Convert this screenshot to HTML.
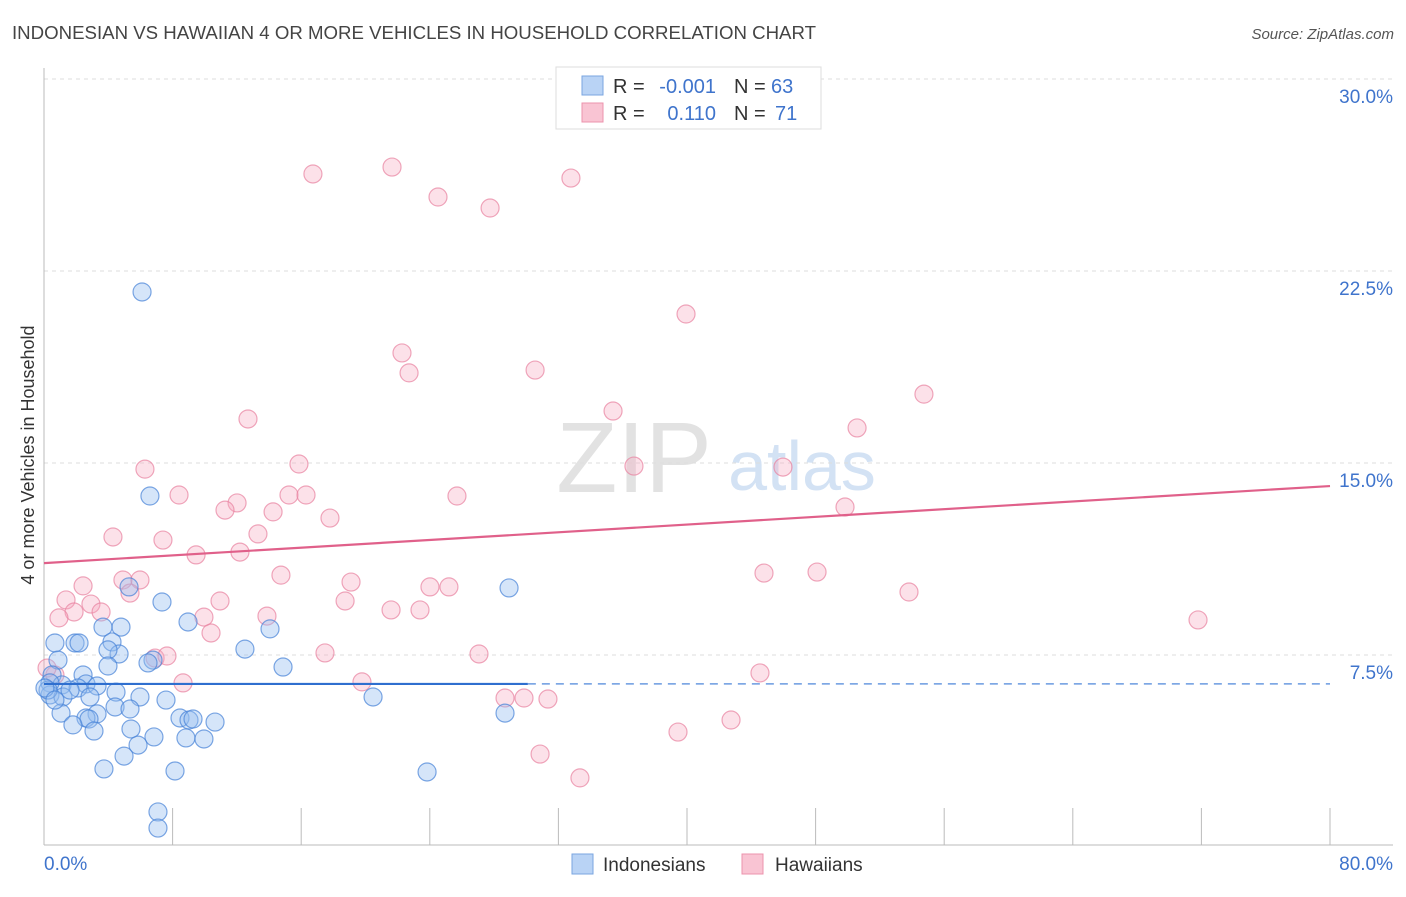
<!DOCTYPE html>
<html><head><meta charset="utf-8"><style>
body{margin:0;background:#fff;font-family:"Liberation Sans",sans-serif;}
svg text{font-family:"Liberation Sans",sans-serif;}
</style></head><body>
<svg id="chart" width="1406" height="892" xmlns="http://www.w3.org/2000/svg">
<text x="12" y="39" font-size="18" textLength="804" lengthAdjust="spacingAndGlyphs" fill="#444">INDONESIAN VS HAWAIIAN 4 OR MORE VEHICLES IN HOUSEHOLD CORRELATION CHART</text>
<text x="1394" y="39" font-size="15" fill="#555" font-style="italic" text-anchor="end">Source: ZipAtlas.com</text>
<g>
<text x="634" y="492" font-size="100" fill="#e2e2e2" text-anchor="middle" font-family="Liberation Serif">ZIP</text>
<text x="802" y="490" font-size="70" fill="#d3e2f4" text-anchor="middle">atlas</text>
</g>
<g id="grid"></g>
<g id="axes"></g>
<g id="pts"></g>
<g id="trend"></g>
<text transform="translate(34,455) rotate(-90)" font-size="18" fill="#333" text-anchor="middle">4 or more Vehicles in Household</text>
<g>
<rect x="556" y="67" width="265" height="62" fill="#fff" stroke="#ddd"/>
<rect x="582" y="76" width="21" height="19" fill="#b9d3f5" stroke="#7aa6e0"/>
<rect x="582" y="103" width="21" height="19" fill="#f9c4d3" stroke="#ec93ad"/>
<text x="613" y="93" font-size="20" fill="#333">R =</text>
<text x="716" y="93" font-size="20" fill="#3f74cc" text-anchor="end">-0.001</text>
<text x="734" y="93" font-size="20" fill="#333">N =</text>
<text x="771" y="93" font-size="20" fill="#3f74cc">63</text>
<text x="613" y="120" font-size="20" fill="#333">R =</text>
<text x="716" y="120" font-size="20" fill="#3f74cc" text-anchor="end">0.110</text>
<text x="734" y="120" font-size="20" fill="#333">N =</text>
<text x="775" y="120" font-size="20" fill="#3f74cc">71</text>
</g>
<g>
<rect x="572" y="854" width="21" height="20" fill="#b9d3f5" stroke="#7aa6e0"/>
<text x="603" y="871" font-size="19" fill="#333">Indonesians</text>
<rect x="742" y="854" width="21" height="20" fill="#f9c4d3" stroke="#ec93ad"/>
<text x="775" y="871" font-size="19" fill="#333">Hawaiians</text>
</g>
</svg>
<script>
const yTicks=[7.5,15,22.5,30];
const yTickLabels=["7.5%","15.0%","22.5%","30.0%"];
const xTickLabels=["0.0%","80.0%"];
const blueX=[6.10,6.59,7.34,8.96,5.29,4.79,3.67,4.23,0.68,1.93,2.18,0.87,4.67,3.98,6.78,3.98,6.47,12.50,14.06,14.87,0.50,2.43,2.61,1.12,0.37,2.12,3.30,0.37,1.18,4.48,5.97,7.59,2.86,1.06,3.30,4.42,5.35,2.61,2.80,1.80,3.11,8.46,9.02,9.27,10.64,5.41,6.84,8.83,9.95,5.85,4.98,3.73,8.15,7.09,7.09,20.47,28.93,28.68,23.83,0.25,1.62,0.06,0.68];
const blueY=[21.68,13.71,9.57,8.79,10.16,8.59,8.59,8.01,7.97,7.97,7.97,7.30,7.54,7.70,7.30,7.07,7.19,7.73,8.52,7.03,6.72,6.72,6.37,6.33,6.41,6.21,6.29,5.94,5.86,6.05,5.86,5.74,5.86,5.23,5.20,5.47,5.39,5.04,5.00,4.77,4.53,5.04,4.96,5.00,4.88,4.61,4.30,4.26,4.22,3.98,3.55,3.05,2.97,1.37,0.74,5.86,10.12,5.23,2.93,6.13,6.13,6.21,5.74];
const pinkX=[16.73,21.65,24.51,27.75,32.78,39.94,22.27,22.71,30.55,54.74,35.40,12.69,50.58,6.28,15.86,36.70,45.97,8.40,12.01,15.24,16.30,25.69,49.83,11.26,14.25,17.79,4.29,7.40,13.31,12.19,9.46,44.79,48.09,14.74,19.10,4.91,5.97,2.43,5.35,24.01,25.19,53.81,1.37,2.92,3.55,10.95,18.73,21.59,23.39,1.87,0.93,13.87,9.95,10.39,71.79,17.48,27.06,6.91,7.65,44.54,0.68,8.65,19.78,28.68,29.86,31.35,39.44,42.74,30.86,33.34,0.19];
const pinkY=[26.29,26.56,25.39,24.96,26.13,20.82,19.30,18.52,18.63,17.69,17.03,16.72,16.37,14.76,14.96,14.88,14.84,13.75,13.44,13.75,13.75,13.71,13.28,13.16,13.09,12.85,12.11,11.99,12.23,11.52,11.41,10.70,10.74,10.62,10.35,10.43,10.43,10.20,9.92,10.16,10.16,9.96,9.65,9.49,9.18,9.61,9.61,9.26,9.26,9.18,8.95,9.02,8.98,8.36,8.87,7.58,7.54,7.38,7.46,6.80,6.72,6.41,6.45,5.82,5.82,5.78,4.49,4.96,3.63,2.70,6.99];
const blueTrend=[6.37,6.37];
const blueSolidEnd=30.1;
const pinkTrend=[11.09,14.10];

const NS="http://www.w3.org/2000/svg";
const X0=44,X1=1330,Y0=847,PPY=192/7.5;
const sx=v=>X0+(v/80)*(X1-X0);
const sy=v=>Y0-v*PPY;
function mk(tag,attrs,parent){const e=document.createElementNS(NS,tag);for(const k in attrs)e.setAttribute(k,attrs[k]);parent.appendChild(e);return e;}
const grid=document.getElementById('grid'),axes=document.getElementById('axes'),pts=document.getElementById('pts'),trend=document.getElementById('trend');
yTicks.forEach((t,i)=>{
 const l=mk('line',{x1:44,x2:1393,y1:sy(t),y2:sy(t),stroke:'#ddd','stroke-dasharray':'4,4'},grid);
 
 
 const tx=mk('text',{x:1393,y:sy(t)+24,'font-size':19,fill:'#3f74cc','text-anchor':'end'},axes);
 tx.textContent=yTickLabels[i];
 
 
});
const ax=mk('line',{x1:44,x2:1393,y1:845,y2:845,stroke:'#bbb'},axes);


const ay=mk('line',{x1:44,x2:44,y1:68,y2:845,stroke:'#bbb'},axes);


for(let k=1;k<=10;k++){
 const t=mk('line',{x1:sx(k*8),x2:sx(k*8),y1:808,y2:845,stroke:'#bbb'},axes);
 
 
}
const xl0=mk('text',{x:44,y:870,'font-size':19,fill:'#3f74cc'},axes);
xl0.textContent=xTickLabels[0];


const xl1=mk('text',{x:1393,y:870,'font-size':19,fill:'#3f74cc','text-anchor':'end'},axes);
xl1.textContent=xTickLabels[1];


pinkX.forEach((v,i)=>{
 const c=mk('circle',{cx:sx(v),cy:sy(pinkY[i]),r:9,fill:'rgba(245,170,192,0.35)',stroke:'rgba(232,130,160,0.7)','stroke-width':1.2},pts);
 
 
});
blueX.forEach((v,i)=>{
 const c=mk('circle',{cx:sx(v),cy:sy(blueY[i]),r:9,fill:'rgba(150,190,240,0.4)',stroke:'rgba(70,130,215,0.7)','stroke-width':1.2},pts);
 
 
});
const pt=mk('line',{x1:sx(0),x2:sx(80),y1:sy(pinkTrend[0]),y2:sy(pinkTrend[1]),stroke:'#e0608a','stroke-width':2.2},trend);


const bs=mk('line',{x1:sx(0),x2:sx(blueSolidEnd),y1:sy(blueTrend[0]),y2:sy(blueTrend[0]),stroke:'#2f6fcf','stroke-width':2.2},trend);


const bd=mk('line',{x1:sx(blueSolidEnd),x2:sx(80),y1:sy(blueTrend[0]),y2:sy(blueTrend[1]),stroke:'#6b9be0','stroke-width':1.5,'stroke-dasharray':'8,6'},trend);


</script>
</body></html>
